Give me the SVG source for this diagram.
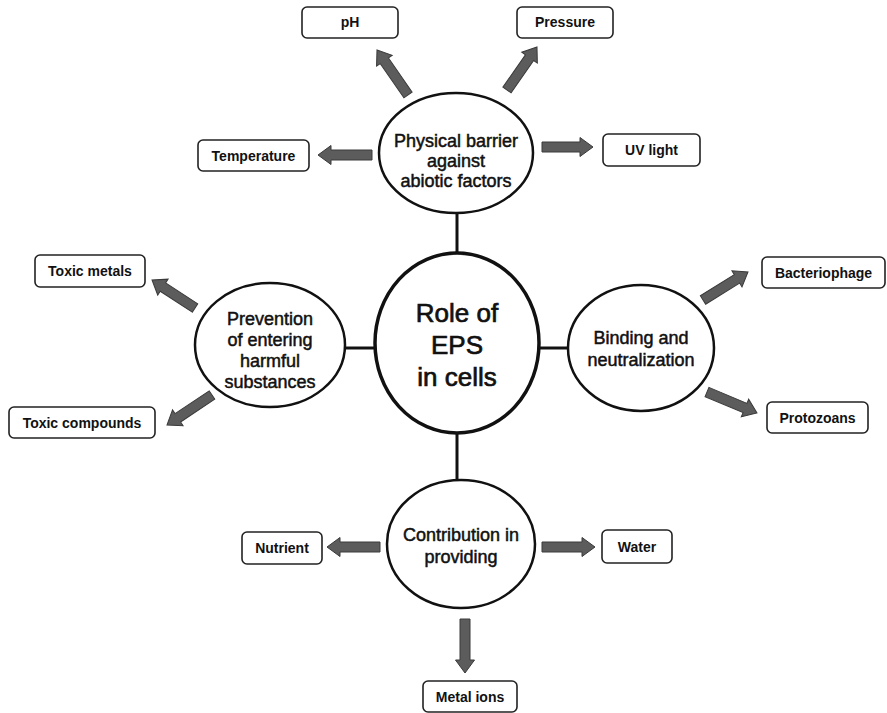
<svg xmlns="http://www.w3.org/2000/svg" width="887" height="713" viewBox="0 0 887 713">
<style>
.bg{fill:#ffffff}
.hub{fill:#fff;stroke:#111;stroke-width:3.5}
.node{fill:#fff;stroke:#111;stroke-width:2.5}
.box{fill:#fff;stroke:#222;stroke-width:1.6}
.link{stroke:#111;stroke-width:3;fill:none}
.arr{fill:#5c5c5c;stroke:#3a3a3a;stroke-width:1}
.ht{font-family:"Liberation Sans",Arial,sans-serif;font-size:26px;fill:#111;stroke:#111;stroke-width:0.7;text-anchor:middle}
.nt{font-family:"Liberation Sans",Arial,sans-serif;font-size:18px;fill:#111;stroke:#111;stroke-width:0.5;text-anchor:middle}
.bt{font-family:"Liberation Sans",Arial,sans-serif;font-size:14px;font-weight:bold;fill:#111;text-anchor:middle}
</style>
<rect class="bg" x="0" y="0" width="887" height="713"/>
<g id="connectors">
<line class="link" x1="457" y1="212" x2="457" y2="254"/>
<line class="link" x1="344" y1="348" x2="376" y2="348"/>
<line class="link" x1="539" y1="348" x2="569" y2="348"/>
<line class="link" x1="457" y1="432" x2="457" y2="481"/>
<path class="arr" transform="translate(408,95) rotate(-124.6)" d="M0,-5 H41.6 V-9.5 L54.6,0 L41.6,9.5 V5 H0 Z"/>
<path class="arr" transform="translate(507,90) rotate(-55.1)" d="M0,-5 H39.4 V-9.5 L52.4,0 L39.4,9.5 V5 H0 Z"/>
<path class="arr" transform="translate(372,155) rotate(180)" d="M0,-5 H41 V-9.5 L54,0 L41,9.5 V5 H0 Z"/>
<path class="arr" transform="translate(542,147)" d="M0,-5 H38 V-9.5 L51,0 L38,9.5 V5 H0 Z"/>
<path class="arr" transform="translate(195,308) rotate(-146.9)" d="M0,-5 H38.3 V-9.5 L51.3,0 L38.3,9.5 V5 H0 Z"/>
<path class="arr" transform="translate(212,395) rotate(146.3)" d="M0,-5 H41.1 V-9.5 L54.1,0 L41.1,9.5 V5 H0 Z"/>
<path class="arr" transform="translate(703,300) rotate(-31.9)" d="M0,-5 H40 V-9.5 L53,0 L40,9.5 V5 H0 Z"/>
<path class="arr" transform="translate(707,392) rotate(22.8)" d="M0,-5 H41.2 V-9.5 L54.2,0 L41.2,9.5 V5 H0 Z"/>
<path class="arr" transform="translate(380,547) rotate(180)" d="M0,-5 H40 V-9.5 L53,0 L40,9.5 V5 H0 Z"/>
<path class="arr" transform="translate(542,547)" d="M0,-5 H40 V-9.5 L53,0 L40,9.5 V5 H0 Z"/>
<path class="arr" transform="translate(465,619) rotate(90)" d="M0,-5 H41 V-9.5 L54,0 L41,9.5 V5 H0 Z"/>
</g>
<g id="hub">
<ellipse class="hub" cx="457" cy="343" rx="82" ry="90"/>
<text class="ht" x="457" y="322">Role of</text>
<text class="ht" x="457" y="354">EPS</text>
<text class="ht" x="457" y="386">in cells</text>
</g>
<g id="physical">
<ellipse class="node" cx="456" cy="153" rx="77" ry="60"/>
<text class="nt" x="456" y="147">Physical barrier</text>
<text class="nt" x="456" y="167">against</text>
<text class="nt" x="456" y="187">abiotic factors</text>
</g>
<g id="prevention">
<ellipse class="node" cx="270" cy="345" rx="75" ry="62"/>
<text class="nt" x="270" y="325">Prevention</text>
<text class="nt" x="270" y="346">of entering</text>
<text class="nt" x="270" y="367">harmful</text>
<text class="nt" x="270" y="388">substances</text>
</g>
<g id="binding">
<ellipse class="node" cx="641" cy="348" rx="73" ry="63"/>
<text class="nt" x="641" y="344">Binding and</text>
<text class="nt" x="641" y="366">neutralization</text>
</g>
<g id="contribution">
<ellipse class="node" cx="461" cy="544" rx="74" ry="64"/>
<text class="nt" x="461" y="541">Contribution in</text>
<text class="nt" x="461" y="563">providing</text>
</g>
<g id="ph"><rect class="box" x="302" y="7" width="96" height="31" rx="5"/><text class="bt" x="350" y="27">pH</text></g>
<g id="pressure"><rect class="box" x="517" y="7" width="96" height="31" rx="5"/><text class="bt" x="565" y="27">Pressure</text></g>
<g id="temperature"><rect class="box" x="198" y="140" width="111" height="31" rx="5"/><text class="bt" x="253.5" y="160.5">Temperature</text></g>
<g id="uvlight"><rect class="box" x="603" y="134" width="97" height="32" rx="5"/><text class="bt" x="651.5" y="155">UV light</text></g>
<g id="toxicmetals"><rect class="box" x="35" y="255" width="110" height="32" rx="5"/><text class="bt" x="90" y="276">Toxic metals</text></g>
<g id="toxiccompounds"><rect class="box" x="9" y="407" width="146" height="31" rx="5"/><text class="bt" x="82" y="427.5">Toxic compounds</text></g>
<g id="bacteriophage"><rect class="box" x="762" y="257" width="123" height="31" rx="5"/><text class="bt" x="823.5" y="277.5">Bacteriophage</text></g>
<g id="protozoans"><rect class="box" x="767" y="402" width="101" height="31" rx="5"/><text class="bt" x="817.5" y="422.5">Protozoans</text></g>
<g id="nutrient"><rect class="box" x="242" y="532" width="80" height="32" rx="5"/><text class="bt" x="282" y="553">Nutrient</text></g>
<g id="water"><rect class="box" x="602" y="530" width="70" height="33" rx="5"/><text class="bt" x="637" y="551.5">Water</text></g>
<g id="metalions"><rect class="box" x="423" y="681" width="94" height="31" rx="5"/><text class="bt" x="470" y="701.5">Metal ions</text></g>
</svg>
